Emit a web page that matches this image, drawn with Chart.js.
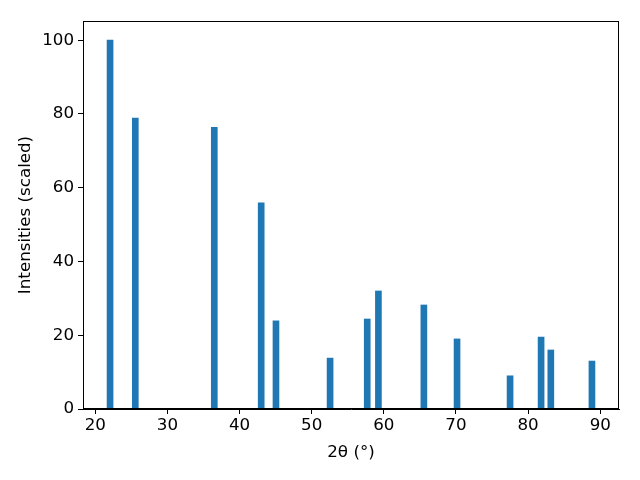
<!DOCTYPE html>
<html>
<head>
<meta charset="utf-8">
<script src="https://cdn.jsdelivr.net/npm/chart.js@4"></script>
<style>
  html, body { margin: 0; padding: 0; background: #fff; }
  #wrap { width: 640px; height: 480px; }
</style>
</head>
<body>
<div id="wrap"><canvas id="chart" width="640" height="480"></canvas></div>
<script>
// peak positions (2 theta, degrees) and scaled intensities
const angles = [22.05, 25.55, 36.5, 43.0, 45.05, 52.55, 57.7, 59.25, 65.55, 70.15, 77.5, 81.8, 83.15, 88.85];
const intensities = [100, 78.9, 76.4, 55.9, 23.9, 13.8, 24.4, 32.0, 28.2, 19.0, 9.0, 19.5, 16.0, 13.0];
const xTicks = [20, 30, 40, 50, 60, 70, 80, 90];
const yTicks = [0, 20, 40, 60, 80, 100];

const font = { family: 'DejaVu Sans', size: 16.7 };

// draw the box around the plot area, like the matplotlib axes frame
const frame = {
    id: 'frame',
    afterDraw(chart) {
        const a = chart.chartArea;
        const ctx = chart.ctx;
        ctx.save();
        ctx.strokeStyle = '#000';
        ctx.lineWidth = 1;
        ctx.strokeRect(a.left + 0.5, a.top + 0.5, a.right - a.left - 1, a.bottom - a.top - 1);
        ctx.restore();
    }
};

const ctx = document.getElementById('chart').getContext('2d');
new Chart(ctx, {
    type: 'bar',
    data: {
        datasets: [{
            data: angles.map((a, i) => ({ x: a, y: intensities[i] })),
            backgroundColor: '#1f77b4',
            borderWidth: 0,
            barThickness: 6
        }]
    },
    options: {
        responsive: false,
        animation: false,
        layout: { padding: { left: 0, top: 21, right: 21, bottom: 0 } },
        plugins: {
            legend: { display: false },
            tooltip: { enabled: false }
        },
        scales: {
            x: {
                type: 'linear',
                min: 18.3,
                max: 92.6,
                offset: false,
                afterBuildTicks: s => { s.ticks = xTicks.map(v => ({ value: v })); },
                afterFit: s => { s.height = 71; },
                grid: { display: true, offset: false, drawOnChartArea: false, drawTicks: true, tickLength: 5, color: '#000' },
                border: { display: true, color: '#000', width: 1 },
                ticks: { color: '#000', font: font, padding: 2, maxRotation: 0 },
                title: { display: true, text: '2θ (°)', color: '#000', font: font, padding: { top: 4, bottom: 17 } }
            },
            y: {
                min: 0,
                max: 105.2,
                afterBuildTicks: s => { s.ticks = yTicks.map(v => ({ value: v })); },
                afterFit: s => { s.width = 83; },
                grid: { display: true, drawOnChartArea: false, drawTicks: true, tickLength: 5, color: '#000' },
                border: { display: true, color: '#000', width: 1 },
                ticks: { color: '#000', font: font, padding: 4 },
                title: { display: true, text: 'Intensities (scaled)', color: '#000', font: font, padding: { top: 16, bottom: 2 } }
            }
        }
    },
    plugins: [frame]
});
</script>
</body>
</html>
